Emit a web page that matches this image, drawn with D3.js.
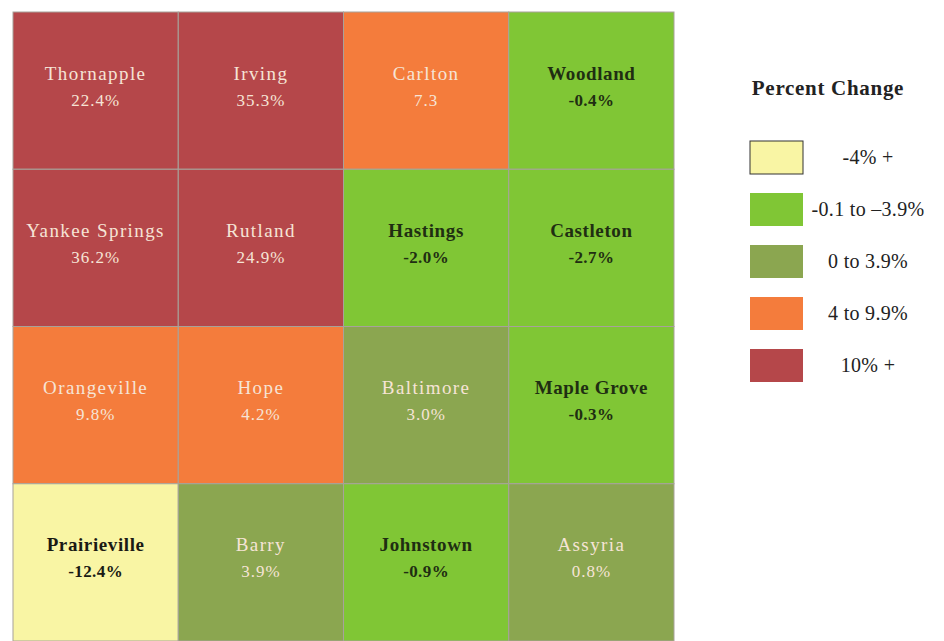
<!DOCTYPE html>
<html>
<head>
<meta charset="utf-8">
<script src="https://cdn.jsdelivr.net/npm/d3@7"></script>
<style>
  html, body { margin: 0; padding: 0; background: #ffffff; }
  svg { display: block; }
  text { font-family: "Liberation Serif", "Times New Roman", serif; }
</style>
</head>
<body>
<svg id="chart" width="944" height="641"></svg>
<script>
// Townships, laid out row by row in a 4 x 4 grid
const townships = [
  "Thornapple", "Irving", "Carlton", "Woodland",
  "Yankee Springs", "Rutland", "Hastings", "Castleton",
  "Orangeville", "Hope", "Baltimore", "Maple Grove",
  "Prairieville", "Barry", "Johnstown", "Assyria"
];
// Percent change for each township
const percentChange = [
  22.4, 35.3, 7.3, -0.4,
  36.2, 24.9, -2.0, -2.7,
  9.8, 4.2, 3.0, -0.3,
  -12.4, 3.9, -0.9, 0.8
];
// Townships whose figure is printed without a percent sign
const noPercentSign = ["Carlton"];

const columns = [0, 1, 2, 3];
const rows = [0, 1, 2, 3];

// Legend classes
const breakpoints = [-4, 0, 4, 10];
const classColors = ["#f9f5a4", "#80c635", "#8ba650", "#f47c3c", "#b5474a"];
const classLabels = ["-4% +", "-0.1 to \u20133.9%", "0 to 3.9%", "4 to 9.9%", "10% +"];
const legendTitle = "Percent Change";

const color = d3.scaleThreshold().domain(breakpoints).range(classColors);
const darkText = new Set(["#f9f5a4", "#80c635"]);
const isDark = d => darkText.has(color(d.value));
const textFill = d => isDark(d) ? (d.value < -4 ? "#1a1a14" : "#1f2e12") : "#f6e4d6";

const svg = d3.select("#chart");

const x = d3.scaleBand().domain(columns).range([13, 674]).padding(0);
const y = d3.scaleBand().domain(rows).range([12, 641]).padding(0);

const data = townships.map((name, i) => ({
  name,
  value: percentChange[i],
  col: i % 4,
  row: Math.floor(i / 4)
}));

const grid = svg.append("g");

const cell = grid.selectAll("g.cell")
  .data(data)
  .join("g")
  .attr("class", "cell")
  .attr("transform", d => `translate(${x(d.col)},${y(d.row)})`);

cell.append("rect")
  .attr("width", x.bandwidth())
  .attr("height", y.bandwidth())
  .attr("fill", d => color(d.value))
  .attr("stroke", "#a7a29a")
  .attr("stroke-width", 1);

cell.append("text")
  .attr("x", x.bandwidth() / 2)
  .attr("y", y.bandwidth() / 2 - 11)
  .attr("text-anchor", "middle")
  .attr("font-size", 19)
  .attr("letter-spacing", d => isDark(d) ? 0.6 : 1.4)
  .attr("font-weight", d => isDark(d) ? "bold" : "normal")
  .attr("fill", textFill)
  .text(d => d.name);

cell.append("text")
  .attr("x", x.bandwidth() / 2)
  .attr("y", y.bandwidth() / 2 + 15)
  .attr("text-anchor", "middle")
  .attr("font-size", 17)
  .attr("letter-spacing", d => isDark(d) ? 0.4 : 1)
  .attr("font-weight", d => isDark(d) ? "bold" : "normal")
  .attr("fill", textFill)
  .text(d => d.value.toFixed(1) + (noPercentSign.includes(d.name) ? "" : "%"));

// Legend
const legend = svg.append("g").attr("transform", "translate(750,0)");

legend.append("text")
  .attr("x", 78)
  .attr("y", 95)
  .attr("text-anchor", "middle")
  .attr("font-size", 21)
  .attr("letter-spacing", 0.7)
  .attr("font-weight", "bold")
  .attr("fill", "#222")
  .text(legendTitle);

const ly = d3.scaleBand()
  .domain(d3.range(classColors.length))
  .range([141, 382])
  .paddingInner(19 / 52)
  .paddingOuter(0);

const item = legend.selectAll("g.item")
  .data(classColors)
  .join("g")
  .attr("class", "item")
  .attr("transform", (d, i) => `translate(0,${ly(i)})`);

item.append("rect")
  .attr("width", 53)
  .attr("height", ly.bandwidth())
  .attr("fill", d => d)
  .attr("stroke", (d, i) => i === 0 ? "#333" : "none")
  .attr("stroke-width", 1);

item.append("text")
  .attr("x", 118)
  .attr("y", 23)
  .attr("text-anchor", "middle")
  .attr("font-size", 20)
  .attr("letter-spacing", 0.3)
  .attr("fill", "#222")
  .text((d, i) => classLabels[i]);
</script>
</body>
</html>
